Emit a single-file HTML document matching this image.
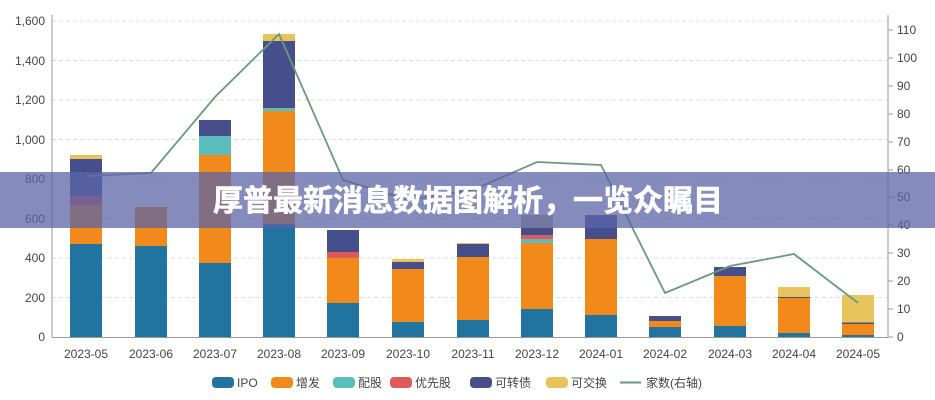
<!DOCTYPE html>
<html><head><meta charset="utf-8"><style>
body{margin:0;background:#fff;}
svg{display:block;font-family:"Liberation Sans","Noto Sans CJK SC",sans-serif;}
</style></head><body>
<svg width="935" height="400" viewBox="0 0 935 400" xmlns="http://www.w3.org/2000/svg">
<g stroke="#ddd" stroke-dasharray="4,3" stroke-width="1">
<line x1="52" x2="888" y1="297.5" y2="297.5"/><line x1="52" x2="888" y1="258" y2="258"/>
<line x1="52" x2="888" y1="218.5" y2="218.5"/><line x1="52" x2="888" y1="179" y2="179"/>
<line x1="52" x2="888" y1="139.5" y2="139.5"/><line x1="52" x2="888" y1="100" y2="100"/>
<line x1="52" x2="888" y1="60.5" y2="60.5"/><line x1="52" x2="888" y1="21" y2="21"/>
</g>
<g id="bars">
<rect x="70" y="244" width="32" height="93" fill="#21749f"/><rect x="70" y="205" width="32" height="39" fill="#f28a1b"/><rect x="70" y="196" width="32" height="9" fill="#c9556a"/><rect x="70" y="159" width="32" height="37" fill="#464f8c"/><rect x="70" y="155" width="32" height="4" fill="#e8c55c"/>
<rect x="135" y="246" width="32" height="91" fill="#21749f"/><rect x="135" y="207" width="32" height="39" fill="#f28a1b"/>
<rect x="199" y="263" width="32" height="74" fill="#21749f"/><rect x="199" y="155" width="32" height="108" fill="#f28a1b"/><rect x="199" y="136" width="32" height="19" fill="#5bbdbd"/><rect x="199" y="120" width="32" height="16" fill="#464f8c"/>
<rect x="263" y="224" width="32" height="113" fill="#21749f"/><rect x="263" y="111" width="32" height="113" fill="#f28a1b"/><rect x="263" y="108" width="32" height="3" fill="#5bbdbd"/><rect x="263" y="41" width="32" height="67" fill="#464f8c"/><rect x="263" y="34" width="32" height="7" fill="#e8c55c"/>
<rect x="327" y="303" width="32" height="34" fill="#21749f"/><rect x="327" y="258" width="32" height="45" fill="#f28a1b"/><rect x="327" y="252" width="32" height="6" fill="#e05a5a"/><rect x="327" y="230" width="32" height="22" fill="#464f8c"/>
<rect x="392" y="322" width="32" height="15" fill="#21749f"/><rect x="392" y="269" width="32" height="53" fill="#f28a1b"/><rect x="392" y="262" width="32" height="7" fill="#464f8c"/><rect x="392" y="259" width="32" height="3" fill="#e8c55c"/>
<rect x="457" y="320" width="32" height="17" fill="#21749f"/><rect x="457" y="257" width="32" height="63" fill="#f28a1b"/><rect x="457" y="244" width="32" height="13" fill="#464f8c"/><rect x="457" y="243" width="32" height="1" fill="#e8c55c"/>
<rect x="521" y="309" width="32" height="28" fill="#21749f"/><rect x="521" y="243" width="32" height="66" fill="#f28a1b"/><rect x="521" y="239" width="32" height="4" fill="#5bbdbd"/><rect x="521" y="235" width="32" height="4" fill="#e05a5a"/><rect x="521" y="228" width="32" height="7" fill="#464f8c"/><rect x="521" y="215" width="32" height="13" fill="#b8ad8a"/>
<rect x="585" y="315" width="32" height="22" fill="#21749f"/><rect x="585" y="239" width="32" height="76" fill="#f28a1b"/><rect x="585" y="215" width="32" height="24" fill="#464f8c"/>
<rect x="649" y="327" width="32" height="10" fill="#21749f"/><rect x="649" y="321" width="32" height="6" fill="#f28a1b"/><rect x="649" y="316" width="32" height="5" fill="#464f8c"/>
<rect x="714" y="326" width="32" height="11" fill="#21749f"/><rect x="714" y="276" width="32" height="50" fill="#f28a1b"/><rect x="714" y="267" width="32" height="9" fill="#464f8c"/>
<rect x="778" y="333" width="32" height="4" fill="#21749f"/><rect x="778" y="298" width="32" height="35" fill="#f28a1b"/><rect x="778" y="297" width="32" height="1" fill="#464f8c"/><rect x="778" y="287" width="32" height="10" fill="#e8c55c"/>
<rect x="842" y="335" width="32" height="2" fill="#21749f"/><rect x="842" y="324" width="32" height="11" fill="#f28a1b"/><rect x="842" y="322.5" width="32" height="1.5" fill="#464f8c"/><rect x="842" y="295" width="32" height="27.5" fill="#e8c55c"/>
</g>
<polyline fill="none" stroke="#6a9a7c" stroke-width="1.8" points="86,176 151,173 215,97 279,34 343,180 408,200 473,190 537,162 601,165 665,293 730,266 794,254 858,303"/>
<g stroke="#999" stroke-width="1">
<line x1="52" y1="15" x2="52" y2="337.5"/><line x1="888" y1="15" x2="888" y2="337.5"/><line x1="52" y1="337.5" x2="888" y2="337.5"/>
</g>
<g stroke="#999" stroke-width="1">
<line x1="888" x2="893" y1="337" y2="337"/><line x1="888" x2="893" y1="309" y2="309"/><line x1="888" x2="893" y1="281" y2="281"/><line x1="888" x2="893" y1="253" y2="253"/><line x1="888" x2="893" y1="225" y2="225"/><line x1="888" x2="893" y1="197" y2="197"/><line x1="888" x2="893" y1="170" y2="170"/><line x1="888" x2="893" y1="142" y2="142"/><line x1="888" x2="893" y1="114" y2="114"/><line x1="888" x2="893" y1="86" y2="86"/><line x1="888" x2="893" y1="58" y2="58"/><line x1="888" x2="893" y1="30" y2="30"/>
</g>
<g font-size="12" fill="#444" text-anchor="end">
<text x="45" y="341">0</text><text x="45" y="302">200</text><text x="45" y="262">400</text><text x="45" y="223">600</text><text x="45" y="183">800</text><text x="45" y="144">1,000</text><text x="45" y="104">1,200</text><text x="45" y="65">1,400</text><text x="45" y="25">1,600</text>
</g>
<g font-size="12" fill="#444">
<text x="897" y="341">0</text><text x="897" y="313">10</text><text x="897" y="285">20</text><text x="897" y="257">30</text><text x="897" y="229">40</text><text x="897" y="201">50</text><text x="897" y="174">60</text><text x="897" y="146">70</text><text x="897" y="118">80</text><text x="897" y="90">90</text><text x="897" y="62">100</text><text x="897" y="34">110</text>
</g>
<g font-size="12" fill="#444" text-anchor="middle">
<text x="86" y="358">2023-05</text><text x="151" y="358">2023-06</text><text x="215" y="358">2023-07</text><text x="279" y="358">2023-08</text><text x="343" y="358">2023-09</text><text x="408" y="358">2023-10</text><text x="473" y="358">2023-11</text><text x="537" y="358">2023-12</text><text x="601" y="358">2024-01</text><text x="665" y="358">2024-02</text><text x="730" y="358">2024-03</text><text x="794" y="358">2024-04</text><text x="858" y="358">2024-05</text>
</g>
<g font-size="12" fill="#444">
<rect x="212" y="377" width="22" height="11" rx="4" fill="#21749f"/><text x="237" y="387">IPO</text>
<rect x="271" y="377" width="22" height="11" rx="4" fill="#f28a1b"/><text x="296" y="387">增发</text>
<rect x="333" y="377" width="22" height="11" rx="4" fill="#5bbdbd"/><text x="358" y="387">配股</text>
<rect x="390" y="377" width="22" height="11" rx="4" fill="#e05a5a"/><text x="415" y="387">优先股</text>
<rect x="470" y="377" width="22" height="11" rx="4" fill="#464f8c"/><text x="495" y="387">可转债</text>
<rect x="546" y="377" width="22" height="11" rx="4" fill="#e8c55c"/><text x="571" y="387">可交换</text>
<line x1="620" x2="641" y1="382.5" y2="382.5" stroke="#6a9a7c" stroke-width="2"/><text x="646" y="387">家数(右轴)</text>
</g>
<rect x="0" y="172" width="935" height="56" fill="rgb(92,100,165)" fill-opacity="0.75"/>
<text x="468" y="211" font-size="30" font-weight="bold" fill="#fff" text-anchor="middle" font-family="'Noto Sans CJK SC',sans-serif" stroke="#fff" stroke-width="0.6">厚普最新消息数据图解析，一览众瞩目</text>
</svg>
</body></html>
